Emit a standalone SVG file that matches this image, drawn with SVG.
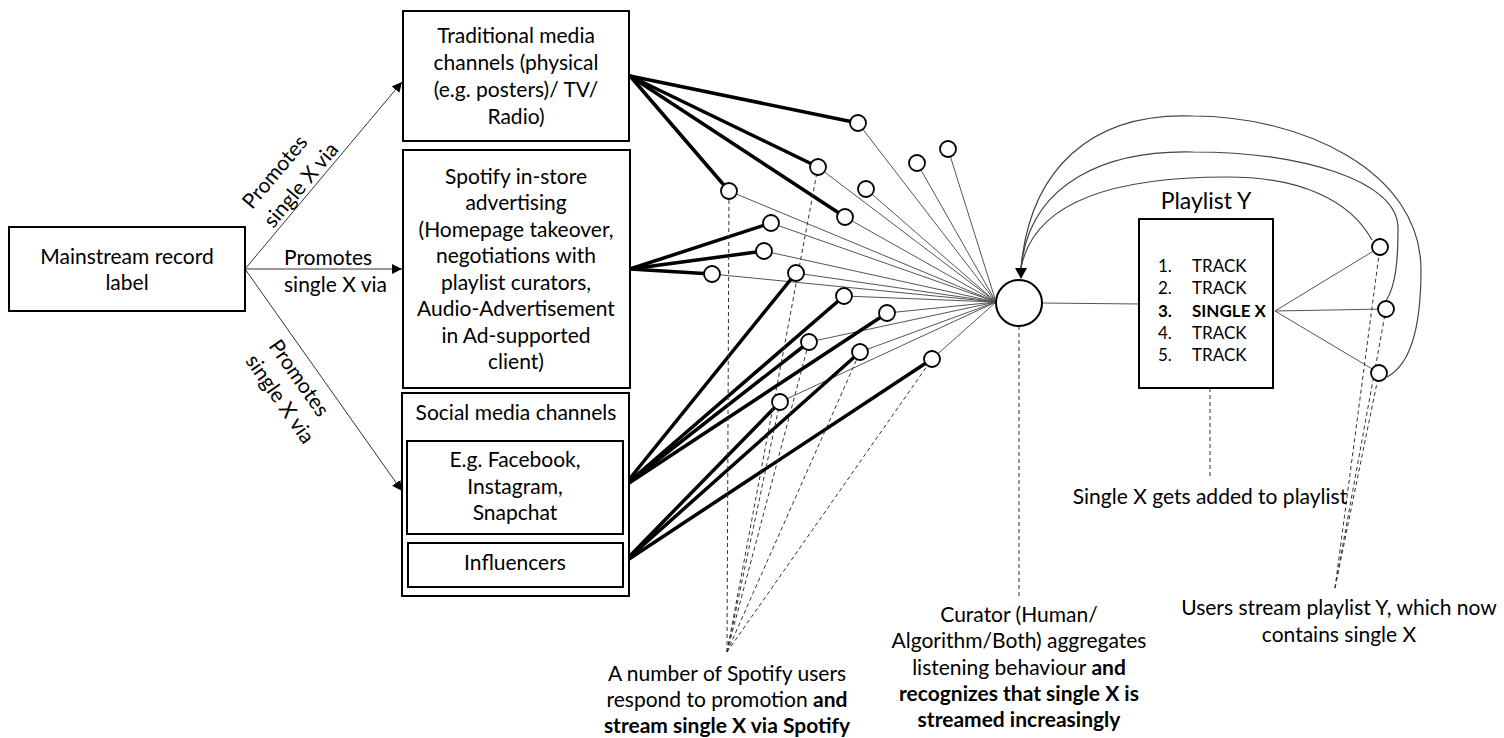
<svg xmlns="http://www.w3.org/2000/svg" width="1504" height="738" viewBox="0 0 1504 738">
<defs>
<marker id="arr" viewBox="0 0 10 10" refX="10" refY="5" markerWidth="10" markerHeight="10" markerUnits="userSpaceOnUse" orient="auto">
<path d="M0,0 L10,5 L0,10 z" fill="#000"/>
</marker>
</defs>
<style>
text{font-family:Lato,"Liberation Sans",sans-serif;font-size:21px;fill:#000;}
.c{text-anchor:middle;}
.b{font-weight:bold;}
.box{fill:#fff;stroke:#000;stroke-width:2;}
.thin{stroke:#555;stroke-width:1;fill:none;}
.thick{stroke:#000;stroke-width:3.5;fill:none;stroke-linecap:round;}
.dash{stroke:#333;stroke-width:1;stroke-dasharray:4,3;fill:none;}
.curve{stroke:#444;stroke-width:1.2;fill:none;}
.arrow{stroke:#333;stroke-width:1;fill:none;marker-end:url(#arr);}
.dot{fill:#fff;stroke:#000;stroke-width:1.8;}
.trk{font-size:17px;}
</style>

<g id="connectors">
<line class="arrow" x1="245" y1="269" x2="402" y2="82"/>
<line class="arrow" x1="245" y1="269" x2="402" y2="269"/>
<line class="arrow" x1="245" y1="269" x2="402" y2="491"/>
<g class="thin">
<line x1="858" y1="123" x2="996" y2="302"/>
<line x1="818" y1="167" x2="996" y2="302"/>
<line x1="729" y1="191" x2="996" y2="302"/>
<line x1="845" y1="217" x2="996" y2="302"/>
<line x1="866" y1="189" x2="996" y2="302"/>
<line x1="917" y1="163" x2="996" y2="302"/>
<line x1="948" y1="149" x2="996" y2="302"/>
<line x1="771" y1="223" x2="996" y2="302"/>
<line x1="764" y1="251" x2="996" y2="302"/>
<line x1="712" y1="274" x2="996" y2="302"/>
<line x1="796" y1="273" x2="996" y2="302"/>
<line x1="844" y1="296" x2="996" y2="302"/>
<line x1="887" y1="313" x2="996" y2="302"/>
<line x1="809" y1="342" x2="996" y2="302"/>
<line x1="860" y1="352" x2="996" y2="302"/>
<line x1="932" y1="359" x2="996" y2="302"/>
<line x1="780" y1="402" x2="996" y2="302"/>
<line x1="1042" y1="303" x2="1140" y2="304"/>
<line x1="1275" y1="311" x2="1380" y2="247"/>
<line x1="1275" y1="311" x2="1386" y2="309"/>
<line x1="1275" y1="311" x2="1379" y2="373"/>
</g>
<g class="thick">
<line x1="630" y1="76" x2="858" y2="123"/>
<line x1="630" y1="76" x2="818" y2="167"/>
<line x1="630" y1="76" x2="729" y2="191"/>
<line x1="630" y1="76" x2="845" y2="217"/>
<line x1="630" y1="269" x2="771" y2="223"/>
<line x1="630" y1="269" x2="764" y2="251"/>
<line x1="630" y1="269" x2="712" y2="274"/>
<line x1="623" y1="487" x2="796" y2="273"/>
<line x1="623" y1="487" x2="844" y2="296"/>
<line x1="623" y1="487" x2="887" y2="313"/>
<line x1="623" y1="487" x2="809" y2="342"/>
<line x1="623" y1="563" x2="860" y2="352"/>
<line x1="623" y1="563" x2="932" y2="359"/>
<line x1="623" y1="563" x2="780" y2="402"/>
</g>
<g class="dash">
<line x1="727" y1="652" x2="729" y2="191"/>
<line x1="727" y1="652" x2="818" y2="167"/>
<line x1="727" y1="652" x2="809" y2="342"/>
<line x1="727" y1="652" x2="860" y2="352"/>
<line x1="727" y1="652" x2="932" y2="359"/>
<line x1="727" y1="652" x2="780" y2="402"/>
<line x1="1019" y1="326" x2="1019" y2="597"/>
<line x1="1210" y1="388" x2="1210" y2="478"/>
<line x1="1335" y1="588" x2="1380" y2="247"/>
<line x1="1335" y1="588" x2="1386" y2="309"/>
<line x1="1335" y1="588" x2="1379" y2="373"/>
</g>
<path class="curve" d="M1372,240 C1350,200 1300,177 1227,177 C1130,177 1035,195 1021,268"/>
<path class="curve" d="M1386,301 C1396,285 1398,260 1398,228 C1398,180 1300,152 1193,152 C1110,150 1030,180 1021,268"/>
<path class="curve" d="M1387,377 C1410,365 1421,330 1421,270 C1421,170 1300,116 1193,116 C1090,112 1030,170 1021,268"/>
<path d="M1015,268 L1027,268 L1021,279 z" fill="#000"/>
</g>

<g id="label-texts">
<text transform="translate(275,172) rotate(-50)" class="c" y="7">Promotes</text>
<text transform="translate(301,185) rotate(-50)" class="c" y="7">single X via</text>
<text x="284" y="265">Promotes</text>
<text x="284" y="292">single X via</text>
<text transform="translate(299,378) rotate(55)" class="c" y="7">Promotes</text>
<text transform="translate(280,399) rotate(55)" class="c" y="7">single X via</text>
</g>

<g id="record-label">
<rect class="box" x="9" y="227" width="236" height="84"/>
<text class="c" x="127" y="264">Mainstream record</text>
<text class="c" x="127" y="290">label</text>
</g>

<g id="traditional">
<rect class="box" x="403" y="11" width="226" height="130"/>
<text class="c" x="516" y="43">Traditional media</text>
<text class="c" x="516" y="70">channels (physical</text>
<text class="c" x="516" y="97">(e.g. posters)/ TV/</text>
<text class="c" x="516" y="124">Radio)</text>
</g>

<g id="spotify-ads">
<rect class="box" x="403" y="150" width="227" height="238"/>
<text class="c" x="516" y="184">Spotify in-store</text>
<text class="c" x="516" y="210">advertising</text>
<text class="c" x="516" y="237">(Homepage takeover,</text>
<text class="c" x="516" y="263">negotiations with</text>
<text class="c" x="516" y="290">playlist curators,</text>
<text class="c" x="516" y="316">Audio-Advertisement</text>
<text class="c" x="516" y="343">in Ad-supported</text>
<text class="c" x="516" y="369">client)</text>
</g>

<g id="social">
<rect class="box" x="402" y="393" width="227" height="203"/>
<text class="c" x="516" y="420">Social media channels</text>
</g>
<g id="facebook">
<rect class="box" x="407" y="441" width="216" height="93"/>
<text class="c" x="515" y="467">E.g. Facebook,</text>
<text class="c" x="515" y="494">Instagram,</text>
<text class="c" x="515" y="520">Snapchat</text>
</g>
<g id="influencers">
<rect class="box" x="408" y="543" width="215" height="44"/>
<text class="c" x="515" y="570">Influencers</text>
</g>

<g id="users">
<circle class="dot" cx="858" cy="123" r="8"/>
<circle class="dot" cx="818" cy="167" r="8"/>
<circle class="dot" cx="729" cy="191" r="8"/>
<circle class="dot" cx="845" cy="217" r="8"/>
<circle class="dot" cx="866" cy="189" r="8"/>
<circle class="dot" cx="917" cy="163" r="8"/>
<circle class="dot" cx="948" cy="149" r="8"/>
<circle class="dot" cx="771" cy="223" r="8"/>
<circle class="dot" cx="764" cy="251" r="8"/>
<circle class="dot" cx="712" cy="274" r="8"/>
<circle class="dot" cx="796" cy="273" r="8"/>
<circle class="dot" cx="844" cy="296" r="8"/>
<circle class="dot" cx="887" cy="313" r="8"/>
<circle class="dot" cx="809" cy="342" r="8"/>
<circle class="dot" cx="860" cy="352" r="8"/>
<circle class="dot" cx="932" cy="359" r="8"/>
<circle class="dot" cx="780" cy="402" r="8"/>
</g>

<g id="curator">
<circle cx="1019" cy="303" r="23" fill="#fff" stroke="#000" stroke-width="2"/>
</g>

<g id="playlist">
<text class="c" x="1206" y="209" style="font-size:23px">Playlist Y</text>
<rect class="box" x="1139" y="219" width="134" height="169"/>
<text class="trk" x="1158" y="272">1.</text><text class="trk" x="1192" y="272">TRACK</text>
<text class="trk" x="1158" y="294">2.</text><text class="trk" x="1192" y="294">TRACK</text>
<text class="trk b" x="1158" y="317">3.</text><text class="trk b" x="1192" y="317">SINGLE X</text>
<text class="trk" x="1158" y="339">4.</text><text class="trk" x="1192" y="339">TRACK</text>
<text class="trk" x="1158" y="361">5.</text><text class="trk" x="1192" y="361">TRACK</text>
</g>

<g id="listeners">
<circle class="dot" cx="1380" cy="247" r="8"/>
<circle class="dot" cx="1386" cy="309" r="8"/>
<circle class="dot" cx="1379" cy="373" r="8"/>
</g>

<g id="annotations">
<text class="c" x="1210" y="504">Single X gets added to playlist</text>
<text class="c" x="1339" y="615">Users stream playlist Y, which now</text>
<text class="c" x="1339" y="642">contains single X</text>
<text class="c" x="1019" y="622">Curator (Human/</text>
<text class="c" x="1019" y="648">Algorithm/Both) aggregates</text>
<text class="c" x="1019" y="675">listening behaviour <tspan class="b">and</tspan></text>
<text class="c b" x="1019" y="701">recognizes that single X is</text>
<text class="c b" x="1019" y="727">streamed increasingly</text>
<text class="c" x="727" y="681">A number of Spotify users</text>
<text class="c" x="727" y="707">respond to promotion <tspan class="b">and</tspan></text>
<text class="c b" x="727" y="733">stream single X via Spotify</text>
</g>
</svg>
